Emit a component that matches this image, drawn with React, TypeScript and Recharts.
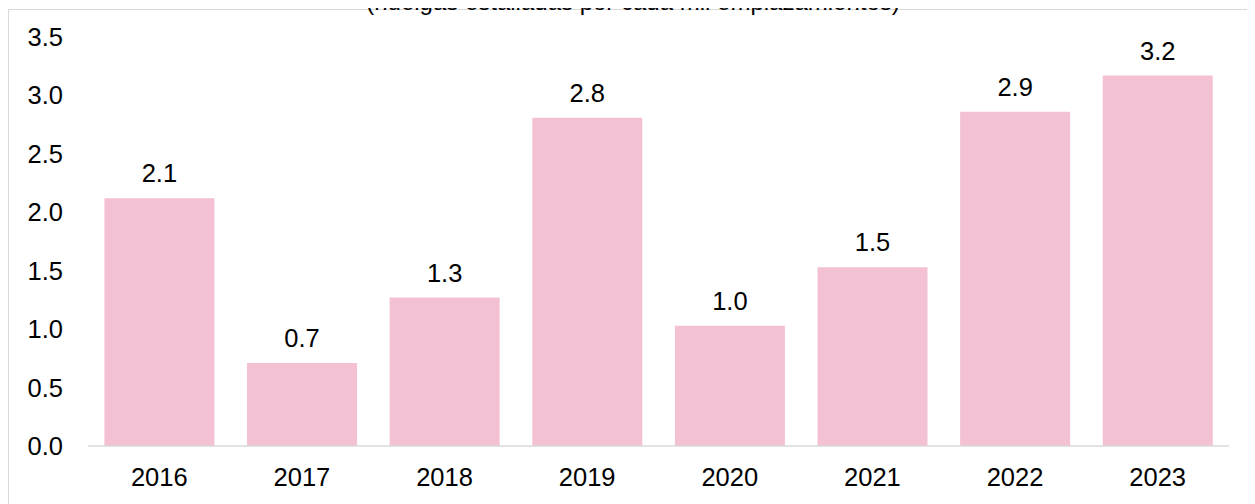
import { BarChart, Bar, XAxis, YAxis, LabelList } from 'recharts'

const years = ['2016', '2017', '2018', '2019', '2020', '2021', '2022', '2023']
const huelgas = [2.12, 0.71, 1.27, 2.81, 1.03, 1.53, 2.86, 3.17]
const yTicks = [0, 0.5, 1, 1.5, 2, 2.5, 3, 3.5]

const chartData = years.map((year, i) => ({ year, value: huelgas[i] }))

const FONT = '"Liberation Sans", Arial, sans-serif'

export default function App() {
  return (
    <div style={{ position: 'relative', width: 1247, height: 496, fontFamily: FONT }}>
      <div
        style={{
          position: 'absolute',
          left: 0,
          top: 1,
          width: 1246,
          height: 494,
          borderLeft: '1px solid #d9d9d9',
          borderTop: '1px solid #d9d9d9',
        }}
      />
      <div
        style={{
          position: 'absolute',
          left: 625,
          top: -20,
          transform: 'translateX(-50%)',
          whiteSpace: 'nowrap',
          fontSize: 24,
          lineHeight: '28px',
          color: '#000',
        }}
      >
        (huelgas estalladas por cada mil emplazamientos)
      </div>
      <div style={{ position: 'absolute', left: 0, top: 0 }}>
        <BarChart
          width={1247}
          height={495}
          data={chartData}
          margin={{ top: 29, right: 26, left: 0, bottom: 0 }}
          barCategoryGap="11.5%"
        >
          <XAxis
            dataKey="year"
            height={57}
            axisLine={{ stroke: '#d9d9d9', strokeWidth: 1.5 }}
            tickLine={false}
            tickSize={0}
            tickMargin={22}
            tick={{ fontSize: 25.5, fill: '#000', fontFamily: FONT }}
          />
          <YAxis
            width={80}
            domain={[0, 3.5]}
            ticks={yTicks}
            interval={0}
            axisLine={false}
            tickLine={false}
            tickSize={0}
            tickMargin={25}
            tickFormatter={(v: number) => v.toFixed(1)}
            tick={{ fontSize: 25.5, fill: '#000', fontFamily: FONT }}
          />
          <Bar dataKey="value" fill="#F3C1D3" isAnimationActive={false}>
            <LabelList
              dataKey="value"
              position="top"
              offset={16}
              formatter={(v: number) => v.toFixed(1)}
              style={{ fontSize: 25.5, fill: '#000', fontFamily: FONT }}
            />
          </Bar>
        </BarChart>
      </div>
    </div>
  )
}
